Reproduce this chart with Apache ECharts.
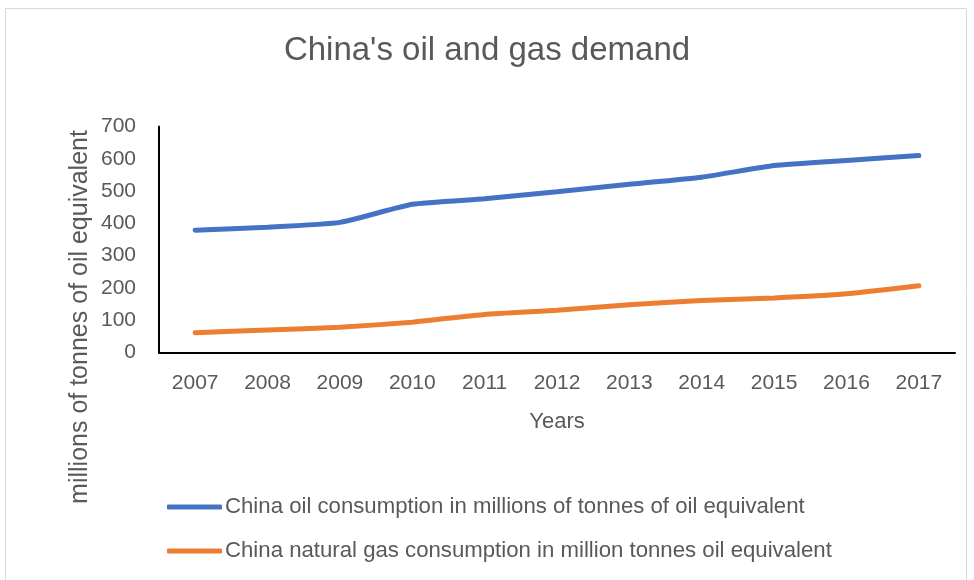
<!DOCTYPE html>
<html><head><meta charset="utf-8">
<script src="https://cdn.jsdelivr.net/npm/echarts@6/dist/echarts.min.js"></script>
<style>html,body{margin:0;padding:0;background:#fff}#c{width:974px;height:580px}</style>
</head><body><div id="c"></div>
<script>
const years = ['2007','2008','2009','2010','2011','2012','2013','2014','2015','2016','2017'];
const oilValues = [379, 388, 403, 459, 476, 498, 521, 543, 579, 595, 610];
const gasValues = [61, 70, 78, 94, 118, 131, 148, 161, 169, 182, 207];
const oilName = 'China oil consumption in millions of tonnes of oil equivalent';
const gasName = 'China natural gas consumption in million tonnes oil equivalent';
const FONT = 'Liberation Sans';
const TXT = '#595959';
const chart = echarts.init(document.getElementById('c'), null, {renderer:'canvas'});
chart.setOption({
  animation: false,
  backgroundColor: '#fff',
  textStyle: {fontFamily: FONT},
  title: {text: "China's oil and gas demand", left: 'center', top: 29,
    textStyle: {fontFamily: FONT, fontSize: 33, fontWeight: 'normal', color: TXT}},
  grid: {left: 159, right: 19, top: 126.5, height: 226, containLabel: false},
  legend: {orient: 'vertical', left: 162, top: 491, itemWidth: 55, itemHeight: 5, itemGap: 22,
    icon: 'roundRect',
    textStyle: {fontFamily: FONT, fontSize: 22.2, color: TXT, padding: [0,0,0,-2]},
    data: [oilName, gasName]},
  xAxis: {type: 'category', data: years, boundaryGap: true,
    axisLine: {lineStyle: {color: '#000', width: 2}},
    axisTick: {show: false},
    axisLabel: {fontFamily: FONT, fontSize: 21, color: TXT, margin: 20},
    splitLine: {show: false}},
  yAxis: {type: 'value', min: 0, max: 700, interval: 100,
    axisLine: {show: true, lineStyle: {color: '#000', width: 2}},
    axisTick: {show: false},
    axisLabel: {fontFamily: FONT, fontSize: 21, color: TXT, margin: 23},
    splitLine: {show: false}},
  graphic: [
    {type: 'rect', shape: {x: 5.5, y: 8.5, width: 961, height: 575}, style: {fill: 'none', stroke: '#d9d9d9', lineWidth: 1}, silent: true},
    {type: 'text', position: [557, 422], style: {text: 'Years', font: '22px ' + FONT, fill: TXT, textAlign: 'center', textVerticalAlign: 'middle'}},
    {type: 'text', position: [80, 317], rotation: Math.PI/2, style: {text: 'millions of tonnes of oil equivalent', font: '25px ' + FONT, fill: TXT, textAlign: 'center', textVerticalAlign: 'middle'}}
  ],
  series: [
    {name: oilName, type: 'line', data: oilValues, smooth: 0.15, symbol: 'none',
      lineStyle: {color: '#4472C4', width: 5, cap: 'round'}, itemStyle: {color: '#4472C4'}},
    {name: gasName, type: 'line', data: gasValues, smooth: 0.15, symbol: 'none',
      lineStyle: {color: '#ED7D31', width: 5, cap: 'round'}, itemStyle: {color: '#ED7D31'}}
  ]
});
</script></body></html>
